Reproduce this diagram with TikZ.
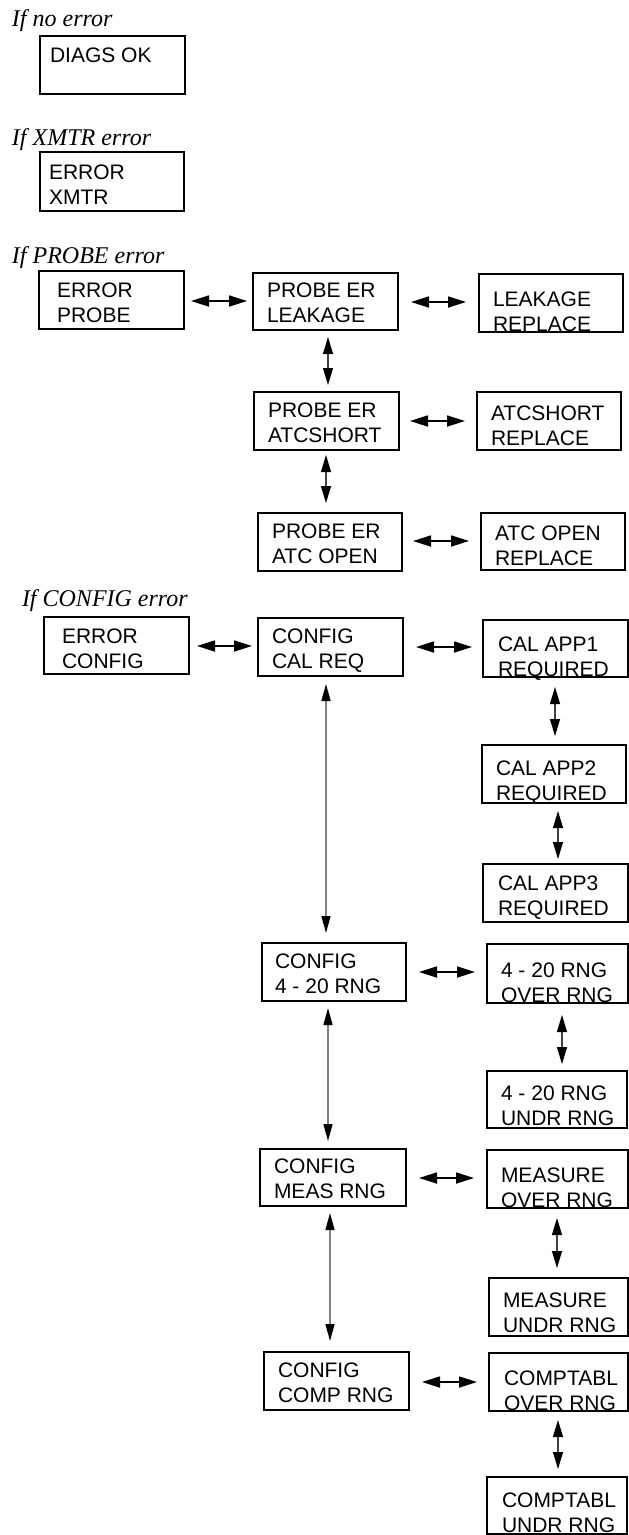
\documentclass[tikz,border=0pt]{standalone}
\usepackage{fontspec}
\newfontfamily\lcdfont{Liberation Sans}
\newfontfamily\notefont{Liberation Serif}
\usetikzlibrary{arrows.meta}

\tikzset{
  panel/.style={draw=black, line width=2pt, inner sep=0pt, outer sep=0pt},
  paneltext/.style={anchor=north west, inner sep=0pt, outer sep=0pt, align=left,
    font=\lcdfont\fontsize{21}{25}\selectfont},
  note/.style={anchor=base west, inner sep=0pt, outer sep=0pt,
    font=\notefont\itshape\fontsize{24}{28}\selectfont},
  harrow/.style={line width=1.7pt, draw=black, <->, >={Triangle[length=18pt,width=11pt]}},
  varrow/.style={line width=1.1pt, draw=black!75, <->,
    >={Triangle[length=17pt,width=10pt,color=black]}},
  longarrow/.style={line width=1.4pt, draw=black!50, <->,
    >={Triangle[length=17pt,width=9pt,color=black]}},
}

% display panel: name, left, top, right, bottom, text x, text top, text
\newcommand\lcdbox[8]{%
  \node[panel, anchor=north west, minimum width={#4-#2}, minimum height={#5-#3}] (#1) at (#2,#3) {};
  \node[paneltext] (#1-t) at (#6,#7) {#8};
}
% horizontal link: from, to, vertical shift, gap at start, gap at end
\newcommand\hlink[5]{%
  \draw[harrow, shorten <=#4pt, shorten >=#5pt] ([yshift=#3pt]#1.east) -- ([yshift=#3pt]#1.east -| #2.west);
}
% vertical link: style, from, to, horizontal shift, gap at start, gap at end
\newcommand\vlink[6]{%
  \draw[#1, shorten <=#5pt, shorten >=#6pt] ([xshift=#4pt]#2.south) -- ([xshift=#4pt]#2.south |- #3.north);
}

\begin{document}
\begin{tikzpicture}[x=1pt, y=-1pt]
\useasboundingbox (0,0) rectangle (629,1535);

% section headings
\node[note] (h-ok)     at (12,26)  {If no error};
\node[note] (h-xmtr)   at (12,145) {If XMTR error};
\node[note] (h-probe)  at (12,263) {If PROBE error};
\node[note] (h-config) at (22,606) {If CONFIG error};

% panels
\lcdbox{ok}{40}{36}{185}{94}{50}{48}{DIAGS OK}
\lcdbox{xmtr}{40}{152}{184}{211}{49}{165}{ERROR\\XMTR}

\lcdbox{eprobe}{39}{271}{184}{329}{57}{283}{ERROR\\PROBE}
\lcdbox{leak}{253}{273}{398}{330}{267}{283}{PROBE ER\\LEAKAGE}
\lcdbox{leakrep}{479}{274}{623}{332}{493}{292}{LEAKAGE\\REPLACE}
\lcdbox{atcs}{254}{392}{399}{450}{268}{403}{PROBE ER\\ATCSHORT}
\lcdbox{atcsrep}{477}{392}{621}{450}{491}{406}{ATCSHORT\\REPLACE}
\lcdbox{atco}{258}{513}{402}{571}{272}{524}{PROBE ER\\ATC OPEN}
\lcdbox{atcorep}{481}{513}{625}{570}{495}{526}{ATC OPEN\\REPLACE}

\lcdbox{econf}{44}{617}{189}{674}{62}{629}{ERROR\\CONFIG}
\lcdbox{calreq}{258}{618}{403}{676}{272}{629}{CONFIG\\CAL REQ}
\lcdbox{cal1}{483}{620}{628}{677}{498}{637}{CAL APP1\\REQUIRED}
\lcdbox{cal2}{482}{745}{626}{803}{496}{761}{CAL APP2\\REQUIRED}
\lcdbox{cal3}{483}{864}{628}{922}{498}{876}{CAL APP3\\REQUIRED}
\lcdbox{c420}{262}{943}{406}{1001}{275}{954}{CONFIG\\4 - 20 RNG}
\lcdbox{o420}{487}{944}{628}{1003}{501}{963}{4 - 20 RNG\\OVER RNG}
\lcdbox{u420}{487}{1071}{627}{1128}{501}{1086}{4 - 20 RNG\\UNDR RNG}
\lcdbox{cmeas}{260}{1149}{406}{1206}{274}{1159}{CONFIG\\MEAS RNG}
\lcdbox{mover}{487}{1150}{628}{1208}{501}{1168}{MEASURE\\OVER RNG}
\lcdbox{munder}{489}{1278}{628}{1336}{503}{1293}{MEASURE\\UNDR RNG}
\lcdbox{ccomp}{264}{1352}{409}{1410}{278}{1363}{CONFIG\\COMP RNG}
\lcdbox{cover}{489}{1353}{628}{1411}{504}{1371}{COMPTABL\\OVER RNG}
\lcdbox{cunder}{487}{1477}{627}{1534}{502}{1493}{COMPTABL\\UNDR RNG}

% horizontal links
\hlink{eprobe}{leak}{-1}{7}{6}
\hlink{leak}{leakrep}{-0.5}{13}{13}
\hlink{atcs}{atcsrep}{0}{11}{12}
\hlink{atco}{atcorep}{1}{11}{12}
\hlink{econf}{calreq}{-0.5}{8}{6}
\hlink{calreq}{cal1}{0}{13}{11}
\hlink{c420}{o420}{0}{13}{12}
\hlink{cmeas}{mover}{-0.5}{13}{13}
\hlink{ccomp}{cover}{-1}{13}{12}

% vertical links
\vlink{varrow}{leak}{atcs}{2.5}{7}{7}
\vlink{varrow}{atcs}{atco}{-0.5}{5}{10}
\vlink{longarrow}{calreq}{c420}{-4.5}{8}{10}
\vlink{varrow}{cal1}{cal2}{-0.5}{10}{9}
\vlink{varrow}{cal2}{cal3}{4}{8}{5}
\vlink{longarrow}{c420}{cmeas}{-6}{7}{8}
\vlink{varrow}{o420}{u420}{4.5}{12}{7}
\vlink{longarrow}{cmeas}{ccomp}{-3}{7}{11}
\vlink{varrow}{mover}{munder}{-0.5}{10}{10}
\vlink{varrow}{cover}{cunder}{-0.5}{9}{8}
\end{tikzpicture}
\end{document}
